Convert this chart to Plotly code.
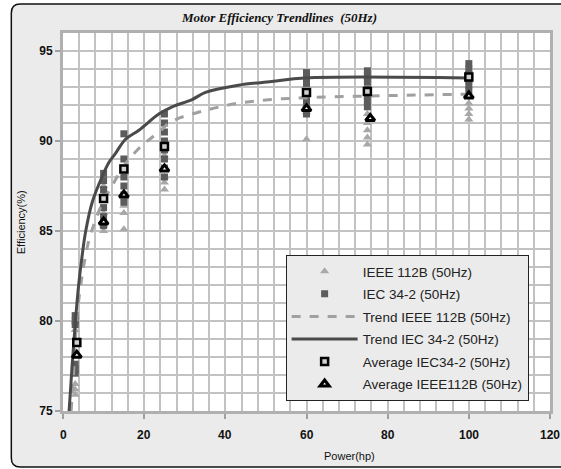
import plotly.graph_objects as go

# ---------------- data ----------------
ieee_x = [3, 3, 3, 3,
          10, 10, 10, 10, 10,
          15, 15, 15, 15,
          25, 25, 25, 25, 25,
          60, 60, 60,
          75, 75, 75, 75, 75,
          100, 100, 100, 100]
ieee_y = [79.5, 76.5, 76.2, 75.9,
          85.0, 85.3, 86.0, 87.0, 87.5,
          85.1, 86.0, 86.4, 87.0,
          87.3, 87.7, 88.0, 88.5, 89.2,
          90.1, 91.6, 92.0,
          89.8, 90.2, 90.6, 91.0, 91.5,
          91.2, 91.5, 91.8, 92.1]

iec_x = [3, 3, 3, 3, 3, 3,
         10, 10, 10, 10, 10, 10, 10,
         15, 15, 15, 15, 15, 15, 15,
         25, 25, 25, 25, 25, 25, 25, 25,
         60, 60, 60, 60, 60, 60, 60,
         75, 75, 75, 75, 75, 75, 75,
         100, 100, 100, 100, 100, 100]
iec_y = [80.3, 80.0, 79.8, 77.6, 77.3, 77.1,
         88.2, 87.8, 87.3, 86.8, 86.3, 85.8, 85.3,
         90.4, 89.0, 88.5, 88.0, 87.5, 87.0, 86.6,
         91.5, 91.0, 90.5, 90.0, 89.5, 89.0, 88.5, 88.0,
         93.8, 93.5, 93.2, 92.6, 92.2, 91.8, 91.5,
         93.9, 93.6, 93.3, 92.9, 92.5, 92.2, 91.9,
         94.3, 94.0, 93.7, 93.4, 93.1, 92.8]

trend_ieee_x = [2.0, 2.7, 3.5, 4.7, 5.2, 6.4, 8.0, 10.0, 12.1, 14.6, 17.9, 20.3,
                23.6, 26.9, 35.1, 43.2, 51.4, 59.6, 75, 100]
trend_ieee_y = [75.0, 77.5, 80.4, 82.5, 83.2, 84.5, 85.6, 86.7, 87.5, 88.5, 89.4, 89.9,
                90.5, 91.1, 91.7, 92.1, 92.3, 92.4, 92.5, 92.6]

trend_iec_x = [1.5, 2.3, 3.1, 3.9, 4.7, 5.6, 7.2, 9.6, 11.3, 12.9, 15.4, 18.7,
               23.6, 26.9, 31.8, 35.1, 43.2, 51.4, 59.6, 100]
trend_iec_y = [75.0, 77.7, 80.1, 82.1, 83.6, 85.0, 86.6, 88.0, 88.8, 89.3, 90.1, 90.6,
               91.5, 91.9, 92.3, 92.7, 93.1, 93.3, 93.5, 93.5]

avg_iec_x = [3.4, 10, 15, 25, 60, 75, 100]
avg_iec_y = [78.8, 86.8, 88.45, 89.7, 92.7, 92.75, 93.55]

avg_ieee_x = [3.4, 10, 15, 25, 60, 75.7, 100]
avg_ieee_y = [78.1, 85.5, 87.0, 88.45, 91.8, 91.25, 92.5]

x_ticks = [0, 20, 40, 60, 80, 100, 120]
y_ticks = [75, 80, 85, 90, 95]
x_min, x_max, x_grid_step = 0, 120, 4
y_min, y_max, y_grid_step = 75, 96, 1

# ---------------- layout geometry (pixels) ----------------
W, H = 561, 469
PL, PR, PT, PB = 63, 553, 33, 411  # plot area


def fx(px):
    return (px - PL) / (PR - PL)


def fy(py):
    return (PB - py) / (PB - PT)


GRID = "#c2c2c2"
FONT = "Liberation Sans, Arial, sans-serif"

fig = go.Figure()

fig.add_trace(go.Scatter(
    x=ieee_x, y=ieee_y, mode="markers", name="IEEE 112B (50Hz)",
    legendgroup="a",
    marker=dict(symbol="triangle-up", size=8, color="#a8a8a8")))
fig.add_trace(go.Scatter(
    x=iec_x, y=iec_y, mode="markers", name="IEC 34-2 (50Hz)",
    legendgroup="b",
    marker=dict(symbol="square", size=7, color="#5c5c5c")))
fig.add_trace(go.Scatter(
    x=trend_ieee_x, y=trend_ieee_y, mode="lines", name="Trend IEEE 112B (50Hz)",
    legendgroup="c", line=dict(color="#a0a0a0", width=3, dash="dash", shape="spline")))
fig.add_trace(go.Scatter(
    x=trend_iec_x, y=trend_iec_y, mode="lines", name="Trend IEC 34-2 (50Hz)",
    legendgroup="d", line=dict(color="#4a4a4a", width=3, shape="spline")))
fig.add_trace(go.Scatter(
    x=avg_iec_x, y=avg_iec_y, mode="markers", name="Average IEC34-2 (50Hz)",
    legendgroup="e",
    marker=dict(symbol="square", size=7, color="#d0d0d0",
                line=dict(color="black", width=2.5))))
fig.add_trace(go.Scatter(
    x=avg_ieee_x, y=avg_ieee_y, mode="markers", name="Average IEEE112B (50Hz)",
    legendgroup="f",
    marker=dict(symbol="triangle-up", size=8, color="#ffffff",
                line=dict(color="black", width=3))))

# chart frame: white outside of a rounded rectangle, drawn outside the plot area
L, T, B = 11, 4, 467
r = 9
LG_L, LG_T, LG_R, LG_B = 287, 255, 524, 398  # legend box (for its shadow)
shapes = [
    dict(type="rect", xref="paper", yref="paper", x0=fx(-5), x1=fx(L), y0=fy(H + 5), y1=fy(-5),
         fillcolor="white", line=dict(width=0), layer="above"),
    dict(type="rect", xref="paper", yref="paper", x0=fx(L), x1=fx(W + 5), y0=fy(T), y1=fy(-5),
         fillcolor="white", line=dict(width=0), layer="above"),
    dict(type="rect", xref="paper", yref="paper", x0=fx(L), x1=fx(W + 5), y0=fy(H + 5), y1=fy(B),
         fillcolor="white", line=dict(width=0), layer="above"),
    dict(type="path", xref="paper", yref="paper", layer="above",
         path=f"M {fx(L)},{fy(T)} L {fx(L + r)},{fy(T)} Q {fx(L)},{fy(T)} {fx(L)},{fy(T + r)} Z",
         fillcolor="white", line=dict(width=0)),
    dict(type="path", xref="paper", yref="paper", layer="above",
         path=f"M {fx(L)},{fy(B)} L {fx(L + r)},{fy(B)} Q {fx(L)},{fy(B)} {fx(L)},{fy(B - r)} Z",
         fillcolor="white", line=dict(width=0)),
    dict(type="path", xref="paper", yref="paper", layer="above",
         path=(f"M {fx(W + 5)},{fy(T)} L {fx(L + r)},{fy(T)} Q {fx(L)},{fy(T)} {fx(L)},{fy(T + r)} "
               f"L {fx(L)},{fy(B - r)} Q {fx(L)},{fy(B)} {fx(L + r)},{fy(B)} L {fx(W + 5)},{fy(B)}"),
         line=dict(color="#111111", width=1.5)),
    # legend drop shadow
    dict(type="rect", xref="paper", yref="paper", layer="above",
         x0=fx(LG_L + 3), x1=fx(LG_R + 2.5), y0=fy(LG_B + 2.5), y1=fy(LG_T + 3),
         fillcolor="#222222", line=dict(width=0)),
]

annotations = [
    dict(text="<b><i>Motor Efficiency Trendlines \u00a0(50Hz)</i></b>",
         xref="paper", yref="paper", x=fx(280), y=fy(17),
         xanchor="center", yanchor="middle", showarrow=False,
         font=dict(family="Liberation Serif, Times New Roman, serif", size=13, color="#111111")),
    dict(text="Power(hp)", xref="paper", yref="paper", x=fx(351), y=fy(456),
         xanchor="center", yanchor="middle", showarrow=False,
         font=dict(family=FONT, size=11, color="#111111")),
    dict(text="Efficiency(%)", xref="paper", yref="paper", x=fx(21), y=fy(222),
         xanchor="center", yanchor="middle", showarrow=False, textangle=-90,
         font=dict(family=FONT, size=11, color="#111111")),
]
# x tick labels placed below the axis as annotations (Excel-style gap)
for v in x_ticks:
    annotations.append(dict(text=f"<b>{v}</b>", xref="x", yref="paper", x=v, y=fy(435),
                            xanchor="center", yanchor="middle", showarrow=False,
                            font=dict(family=FONT, size=12, color="#111111")))

fig.update_layout(
    width=W, height=H,
    margin=dict(l=PL, r=W - PR, t=PT, b=H - PB, pad=0),
    paper_bgcolor="#ebebeb",
    plot_bgcolor="white",
    shapes=shapes,
    annotations=annotations,
    showlegend=True,
    legend=dict(
        x=fx(LG_L), y=fy(LG_T), xanchor="left", yanchor="top",
        bgcolor="#ebebeb", bordercolor="#222222", borderwidth=1,
        font=dict(family=FONT, size=13.5, color="#222222"),
        itemwidth=66, tracegroupgap=2,
    ),
)

fig.update_xaxes(
    range=[x_min, x_max], tickmode="array", tickvals=x_ticks, showticklabels=False,
    ticks="outside", ticklen=5, tickcolor="#a0a0a0", tickwidth=1.5,
    showgrid=True, gridcolor=GRID, gridwidth=2,
    minor=dict(tickmode="linear", tick0=x_min, dtick=x_grid_step,
               showgrid=True, gridcolor=GRID, gridwidth=2),
    showline=True, mirror=True, linecolor="#b0b0b0", linewidth=3,
    zeroline=False,
)
fig.update_yaxes(
    range=[y_min, y_max], tickmode="array", tickvals=y_ticks,
    ticktext=[f"<b>{v}</b>" for v in y_ticks],
    ticks="outside", ticklen=5, tickcolor="#a0a0a0", tickwidth=1.5,
    showgrid=True, gridcolor=GRID, gridwidth=2,
    minor=dict(tickmode="linear", tick0=y_min, dtick=y_grid_step,
               showgrid=True, gridcolor=GRID, gridwidth=2),
    showline=True, mirror=True, linecolor="#b0b0b0", linewidth=3,
    zeroline=False,
    tickfont=dict(family=FONT, size=12, color="#111111"),
)

fig.write_html("out.html")
